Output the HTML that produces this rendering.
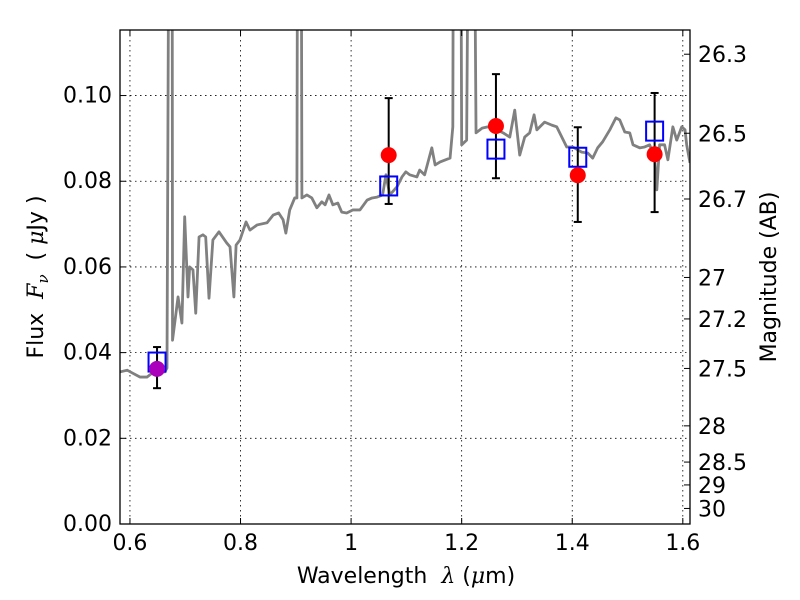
<!DOCTYPE html>
<html><head><meta charset="utf-8">
<style>
html,body{margin:0;padding:0;background:#fff;}
svg{display:block;font-family:"DejaVu Sans","Liberation Sans",sans-serif;}
</style></head>
<body>
<svg id="chart" width="800" height="600" viewBox="0 0 800 600" xmlns="http://www.w3.org/2000/svg">
<defs><clipPath id="clip"><rect x="120" y="30" width="570" height="494"/></clipPath></defs>
<g id="grid"></g>
<g id="series" clip-path="url(#clip)"></g>
<rect x="120" y="30" width="570" height="494" fill="none" stroke="#000" stroke-width="1.3"/>
<g id="axes"></g>
<text x="406" y="583" font-size="22" text-anchor="middle" xml:space="preserve">Wavelength  <tspan font-family="DejaVu Serif" font-style="italic">λ</tspan> (<tspan font-family="DejaVu Serif" font-style="italic">μ</tspan>m)</text>
<text transform="translate(43,277) rotate(-90)" font-size="22" text-anchor="middle" xml:space="preserve">Flux  <tspan font-family="DejaVu Serif" font-style="italic">F<tspan font-size="15" dy="5">ν</tspan></tspan><tspan dy="-5">  ( </tspan><tspan font-family="DejaVu Serif" font-style="italic">μ</tspan>Jy )</text>
<text transform="translate(776,277) rotate(-90)" font-size="22" text-anchor="middle">Magnitude (AB)</text>
</svg>
<script>
const specWave=[.582,.595,.605,.618,.631,.640,.651,.663,.667,.672,.676,.677,.687,.694,.699,.705,.708,.714,.719,.725,.732,.737,.743,.750,.761,.775,.781,.788,.792,.799,.810,.817,.830,.848,.859,.869,.877,.882,.889,.898,.902,.904,.909,.911,.920,.929,.938,.947,.953,.960,.967,.976,.983,.992,1.003,1.016,1.029,1.038,1.047,1.057,1.063,1.070,1.083,1.092,1.099,1.106,1.119,1.124,1.133,1.146,1.152,1.161,1.179,1.184,1.186,1.197,1.200,1.209,1.215,1.220,1.226,1.237,1.247,1.264,1.275,1.287,1.296,1.305,1.314,1.323,1.331,1.336,1.350,1.363,1.372,1.390,1.401,1.417,1.428,1.437,1.446,1.455,1.468,1.479,1.486,1.495,1.504,1.510,1.522,1.531,1.540,1.549,1.553,1.558,1.567,1.573,1.582,1.589,1.598,1.604,1.607,1.613];
const specFlux=[.0355,.0359,.0352,.0343,.0343,.0352,.0359,.0355,.0364,.2,.2,.0429,.0530,.0469,.0717,.0530,.0600,.0593,.0492,.0670,.0675,.0670,.0527,.0663,.0682,.0656,.0647,.0530,.0651,.0663,.0705,.0686,.0698,.0703,.0721,.0726,.0710,.0679,.0733,.0761,.0761,.2,.2,.0761,.0768,.0761,.0738,.0752,.0745,.0768,.0745,.0749,.0728,.0726,.0733,.0733,.0756,.0761,.0763,.0768,.0815,.0768,.0787,.0810,.0822,.0815,.0810,.0826,.0815,.0878,.0838,.0845,.0854,.0927,.2,.2,.0885,.0896,.2,.2,.0913,.0924,.0927,.0920,.0913,.0903,.0966,.0861,.0903,.0913,.0955,.0920,.0938,.0931,.0927,.0880,.0880,.0868,.0866,.0854,.0878,.0892,.0920,.0948,.0943,.0915,.0913,.0885,.0878,.0880,.0885,.0857,.0780,.0885,.0885,.0850,.0927,.0896,.0927,.0920,.0885,.0843];
const photWave=[0.649,1.068,1.262,1.410,1.549];
const photFlux=[0.0362,0.0861,0.0929,0.0814,0.0863];
const photErrLo=[0.0317,0.0747,0.0807,0.0705,0.0728];
const photErrHi=[0.0413,0.0994,0.1050,0.0926,0.1006];
const modelFlux=[0.0378,0.0789,0.0875,0.0856,0.0917];
const xTicks=[0.6,0.8,1.0,1.2,1.4,1.6];
const xTickLabels=["0.6","0.8","1","1.2","1.4","1.6"];
const yTicks=[0,0.02,0.04,0.06,0.08,0.10];
const yTickLabels=["0.00","0.02","0.04","0.06","0.08","0.10"];
const magTicks=[26.3,26.5,26.7,27,27.2,27.5,28,28.5,29,30];

const X0=120,X1=690,Y0=524,Y1=30,XMIN=0.582,XMAX=1.613,YMIN=0,YMAX=0.1153;
const sx=v=>X0+(v-XMIN)/(XMAX-XMIN)*(X1-X0);
const sy=v=>Y0-(v-YMIN)/(YMAX-YMIN)*(Y0-Y1);
const NS="http://www.w3.org/2000/svg";
function mk(tag,attrs,parent){const e=document.createElementNS(NS,tag);for(const k in attrs)e.setAttribute(k,attrs[k]);parent.appendChild(e);return e;}
const grid=document.getElementById('grid'),series=document.getElementById('series'),axes=document.getElementById('axes');

xTicks.forEach((t,i)=>{const x=sx(t);
 const g=mk('line',{x1:x,x2:x,y1:Y1,y2:Y0,stroke:'#000','stroke-width':0.8,'stroke-dasharray':'1.5,3.5'},grid);
 
 
 mk('line',{x1:x,x2:x,y1:Y0,y2:Y0-6,stroke:'#000'},axes);
 mk('line',{x1:x,x2:x,y1:Y1,y2:Y1+6,stroke:'#000'},axes);
 const l=mk('text',{x:x,y:Y0+26,'font-size':22,'text-anchor':'middle'},axes);l.textContent=xTickLabels[i];
 
 
});
yTicks.forEach((t,i)=>{const y=sy(t);
 if(t>0){const g=mk('line',{x1:X0,x2:X1,y1:y,y2:y,stroke:'#000','stroke-width':0.8,'stroke-dasharray':'1.5,3.5'},grid);
 
 }
 mk('line',{x1:X0,x2:X0+6,y1:y,y2:y,stroke:'#000'},axes);
 const l=mk('text',{x:X0-8,y:y+7,'font-size':22,'text-anchor':'end'},axes);l.textContent=yTickLabels[i];
 
 
});
magTicks.forEach(m=>{const f=Math.pow(10,(23.9-m)/2.5);const y=sy(f);
 mk('line',{x1:X1,x2:X1-6,y1:y,y2:y,stroke:'#000'},axes);
 const l=mk('text',{x:X1+8,y:y+8,'font-size':22},axes);l.textContent=String(m);
 
 
});

const sp=mk('polyline',{points:specWave.map((w,i)=>sx(w)+','+sy(specFlux[i])).join(' '),fill:'none',stroke:'#808080','stroke-width':2.8,'stroke-linejoin':'round'},series);



photWave.forEach((w,i)=>{const x=sx(w);
 const e=mk('g',{},series);
 
 
 mk('line',{x1:x,x2:x,y1:sy(photErrLo[i]),y2:sy(photErrHi[i]),stroke:'#000','stroke-width':2},e);
 mk('line',{x1:x-4,x2:x+4,y1:sy(photErrLo[i]),y2:sy(photErrLo[i]),stroke:'#000','stroke-width':2},e);
 mk('line',{x1:x-4,x2:x+4,y1:sy(photErrHi[i]),y2:sy(photErrHi[i]),stroke:'#000','stroke-width':2},e);
 const s=mk('rect',{x:x-8.5,y:sy(modelFlux[i])-9.5,width:17,height:19,fill:'none',stroke:'#0000ff','stroke-width':2},series);
 
 
 const c=mk('circle',{cx:x,cy:sy(photFlux[i]),r:8,fill:i===0?'#aa00bb':'#ff0000'},series);
 
 
});
</script>
</body></html>
